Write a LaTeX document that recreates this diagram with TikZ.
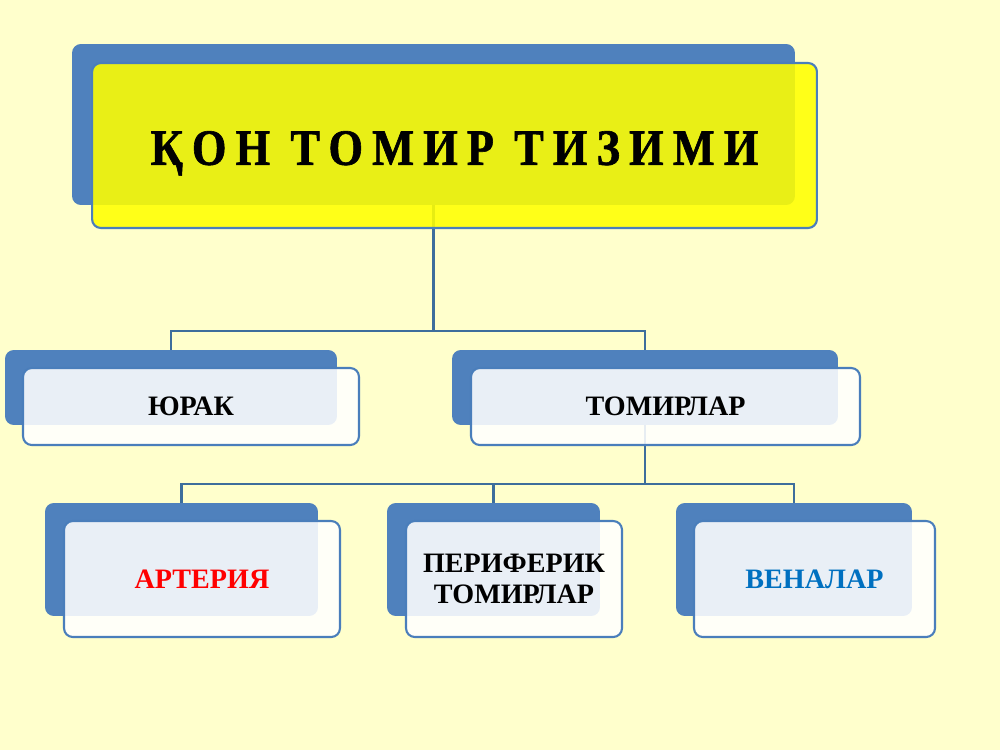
\documentclass[tikz,border=0pt]{standalone}
\usepackage{fontspec}
\setmainfont{Liberation Serif}
\usepackage{tikz}
\usetikzlibrary{positioning,calc}
\definecolor{slidebg}{HTML}{FFFFCC}
\definecolor{boxblue}{HTML}{4F81BD}
\definecolor{edgeblue}{HTML}{4A7EBB}
\definecolor{linkblue}{HTML}{3D6E9C}
\definecolor{frontgray}{HTML}{FFFFFF}
\definecolor{titleyellow}{HTML}{FFFF00}
\definecolor{veinblue}{HTML}{0070C0}

\begin{document}
\begin{tikzpicture}[x=0.02cm, y=-0.02cm,
    backbox/.style={fill=boxblue, rounded corners=5pt, inner sep=0pt},
    frontbox/.style={fill=frontgray, fill opacity=0.88, text opacity=1, draw=edgeblue,
      line width=1.2pt, rounded corners=5pt, inner sep=0pt, align=center,
      font=\fontsize{16}{18}\selectfont\bfseries},
    link/.style={draw=linkblue, line width=1.4pt}]
        \fill[slidebg] (0,0) rectangle (1000,750);
        \useasboundingbox (0,0) rectangle (1000,750);
        % back boxes
        \node[backbox, minimum width=14.46cm, minimum height=3.22cm] (title-b) at (433.5,124.5) {};
        \node[backbox, minimum width=6.64cm, minimum height=1.5cm] (heart-b) at (171,387.5) {};
        \node[backbox, minimum width=7.72cm, minimum height=1.5cm] (vessel-b) at (645,387.5) {};
        \node[backbox, minimum width=5.46cm, minimum height=2.26cm] (artery-b) at (181.5,559.5) {};
        \node[backbox, minimum width=4.26cm, minimum height=2.26cm] (periph-b) at (493.5,559.5) {};
        \node[backbox, minimum width=4.72cm, minimum height=2.26cm] (vein-b) at (794,559.5) {};
        % connectors
        \coordinate (bus-a) at (433.5,331);
        \coordinate (bus-b) at (645,484);
        \draw[link] (title-b.south) -- (bus-a);
        \draw[link] (heart-b.north) |- (bus-a) -| (vessel-b.north);
        \draw[link] (vessel-b.south) -- (bus-b);
        \draw[link] (artery-b.north) |- (bus-b) -| (vein-b.north);
        \draw[link] (periph-b.north) -- (periph-b.north |- bus-b);
        % front boxes
        \node[frontbox, fill=titleyellow, minimum width=14.5cm, minimum height=3.3cm,
          font=\fontsize{29}{33}\selectfont\bfseries\addfontfeature{FakeStretch=0.87,FakeBold=1.2,LetterSpace=18}] (title) at (454.5,145.5) {\raisebox{-11pt}[0pt][0pt]{ҚОН ТОМИР ТИЗИМИ}};
        \node[frontbox, minimum width=6.72cm, minimum height=1.54cm] (heart) at (191,406.5) {ЮРАК};
        \node[frontbox, minimum width=7.78cm, minimum height=1.54cm] (vessel) at (665.5,406.5) {ТОМИРЛАР};
        \node[frontbox, minimum width=5.52cm, minimum height=2.32cm, text=red] (artery) at (202,579) {АРТЕРИЯ};
        \node[frontbox, minimum width=4.32cm, minimum height=2.32cm] (periph) at (514,579) {ПЕРИФЕРИК\\[0pt]ТОМИРЛАР};
        \node[frontbox, minimum width=4.82cm, minimum height=2.32cm, text=veinblue] (vein) at (814.5,579) {ВЕНАЛАР};
      \end{tikzpicture}
\end{document}
